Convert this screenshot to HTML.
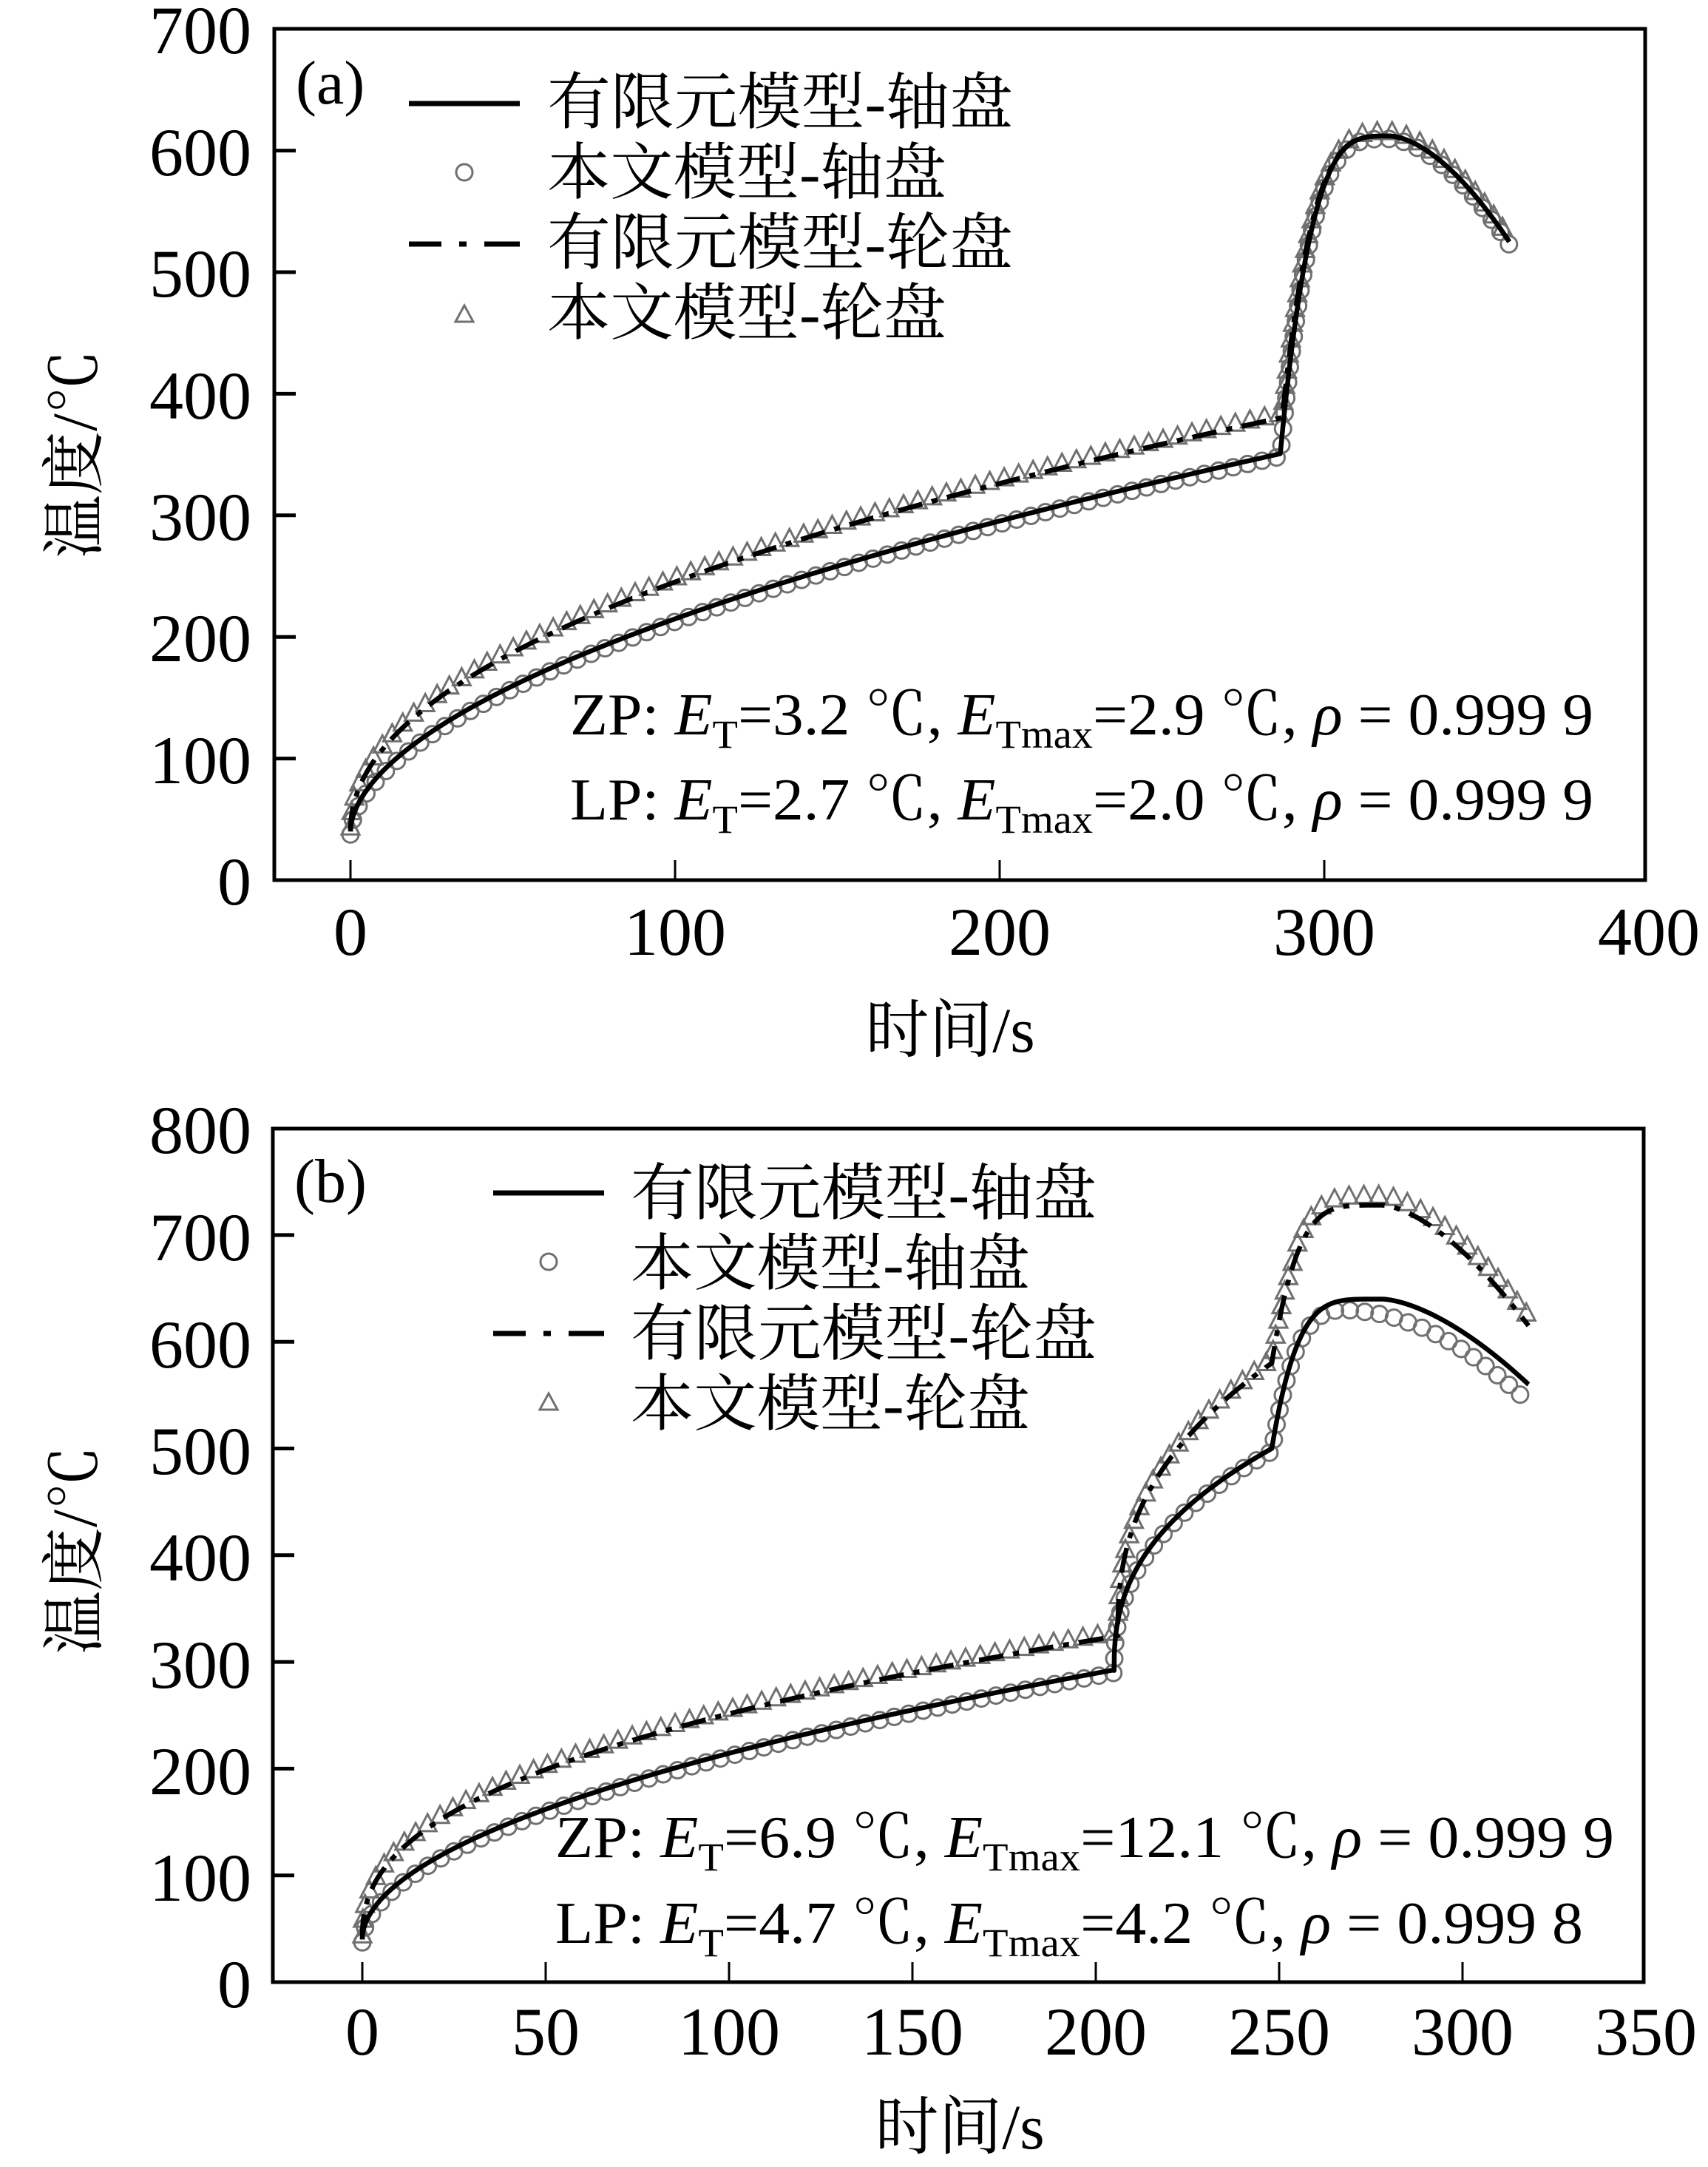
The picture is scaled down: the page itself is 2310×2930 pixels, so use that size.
<!DOCTYPE html>
<html><head><meta charset="utf-8"><style>
html,body{margin:0;padding:0;background:#fff;}
svg{display:block;}
.t{font-family:"Liberation Serif","Noto Serif CJK SC",serif;fill:#000;}
.c{font-family:"Liberation Serif","Noto Serif CJK SC",serif;fill:#000;}
</style></head><body>
<svg id="s" xmlns="http://www.w3.org/2000/svg" width="2310" height="2930" viewBox="0 0 2310 2930">
<rect width="2310" height="2930" fill="#fff"/>
<g id="ga"></g>
<g id="gb"></g>
<g class="t" font-size="92">
<text x="340" y="72" text-anchor="end">700</text>
<text x="340" y="237" text-anchor="end">600</text>
<text x="340" y="401" text-anchor="end">500</text>
<text x="340" y="566" text-anchor="end">400</text>
<text x="340" y="730" text-anchor="end">300</text>
<text x="340" y="894" text-anchor="end">200</text>
<text x="340" y="1059" text-anchor="end">100</text>
<text x="340" y="1223" text-anchor="end">0</text>
<text x="474" y="1291" text-anchor="middle">0</text>
<text x="913" y="1291" text-anchor="middle">100</text>
<text x="1352" y="1291" text-anchor="middle">200</text>
<text x="1791" y="1291" text-anchor="middle">300</text>
<text x="2230" y="1291" text-anchor="middle">400</text>
</g>
<g class="t" font-size="92">
<text x="340" y="1559" text-anchor="end">800</text>
<text x="340" y="1704" text-anchor="end">700</text>
<text x="340" y="1849" text-anchor="end">600</text>
<text x="340" y="1993" text-anchor="end">500</text>
<text x="340" y="2137" text-anchor="end">400</text>
<text x="340" y="2282" text-anchor="end">300</text>
<text x="340" y="2426" text-anchor="end">200</text>
<text x="340" y="2570" text-anchor="end">100</text>
<text x="340" y="2714" text-anchor="end">0</text>
<text x="490" y="2778" text-anchor="middle">0</text>
<text x="738" y="2778" text-anchor="middle">50</text>
<text x="986" y="2778" text-anchor="middle">100</text>
<text x="1234" y="2778" text-anchor="middle">150</text>
<text x="1482" y="2778" text-anchor="middle">200</text>
<text x="1730" y="2778" text-anchor="middle">250</text>
<text x="1978" y="2778" text-anchor="middle">300</text>
<text x="2226" y="2778" text-anchor="middle">350</text>
</g>
<g class="c" font-size="84">
<text x="400" y="140">(a)</text>
<text x="398" y="1625">(b)</text>
<text x="740" y="167" textLength="630" lengthAdjust="spacingAndGlyphs">有限元模型-轴盘</text>
<text x="740" y="262" textLength="540" lengthAdjust="spacingAndGlyphs">本文模型-轴盘</text>
<text x="740" y="357" textLength="630" lengthAdjust="spacingAndGlyphs">有限元模型-轮盘</text>
<text x="740" y="452" textLength="540" lengthAdjust="spacingAndGlyphs">本文模型-轮盘</text>
<text x="853" y="1642" textLength="630" lengthAdjust="spacingAndGlyphs">有限元模型-轴盘</text>
<text x="853" y="1737" textLength="540" lengthAdjust="spacingAndGlyphs">本文模型-轴盘</text>
<text x="853" y="1832" textLength="630" lengthAdjust="spacingAndGlyphs">有限元模型-轮盘</text>
<text x="853" y="1927" textLength="540" lengthAdjust="spacingAndGlyphs">本文模型-轮盘</text>
<text x="1285" y="1422" text-anchor="middle" font-size="86">时间/s</text>
<text x="1298" y="2905" text-anchor="middle" font-size="86">时间/s</text>
<text transform="translate(130,614) rotate(-90)" text-anchor="middle" font-size="86">温度/℃</text>
<text transform="translate(130,2096) rotate(-90)" text-anchor="middle" font-size="86">温度/℃</text>
</g>
<g class="t" font-size="80">
<text x="771" y="993" textLength="1384" lengthAdjust="spacingAndGlyphs">ZP: <tspan font-style="italic">E</tspan><tspan font-size="54" dy="18">T</tspan><tspan dy="-18">=3.2 ℃, </tspan><tspan font-style="italic">E</tspan><tspan font-size="54" dy="18">Tmax</tspan><tspan dy="-18">=2.9 ℃,  </tspan><tspan font-style="italic">ρ</tspan> = 0.999 9</text>
<text x="771" y="1108" textLength="1384" lengthAdjust="spacingAndGlyphs">LP: <tspan font-style="italic">E</tspan><tspan font-size="54" dy="18">T</tspan><tspan dy="-18">=2.7 ℃, </tspan><tspan font-style="italic">E</tspan><tspan font-size="54" dy="18">Tmax</tspan><tspan dy="-18">=2.0 ℃,  </tspan><tspan font-style="italic">ρ</tspan> = 0.999 9</text>
<text x="751" y="2511" textLength="1432" lengthAdjust="spacingAndGlyphs">ZP: <tspan font-style="italic">E</tspan><tspan font-size="54" dy="18">T</tspan><tspan dy="-18">=6.9 ℃, </tspan><tspan font-style="italic">E</tspan><tspan font-size="54" dy="18">Tmax</tspan><tspan dy="-18">=12.1 ℃,  </tspan><tspan font-style="italic">ρ</tspan> = 0.999 9</text>
<text x="751" y="2627" textLength="1390" lengthAdjust="spacingAndGlyphs">LP: <tspan font-style="italic">E</tspan><tspan font-size="54" dy="18">T</tspan><tspan dy="-18">=4.7 ℃, </tspan><tspan font-style="italic">E</tspan><tspan font-size="54" dy="18">Tmax</tspan><tspan dy="-18">=4.2 ℃,  </tspan><tspan font-style="italic">ρ</tspan> = 0.999 8</text>
</g>
</svg>
<script>
var NS="http://www.w3.org/2000/svg";
function el(g,n,a){var e=document.createElementNS(NS,n);for(var k in a)e.setAttribute(k,a[k]);g.appendChild(e);return e;}
function pw(a,p,t){return t<=0?0:a*Math.pow(t,p);}
var A={x0:474,sx:4.39,y0:1190,sy:1.644,L:371,R:2225,T:39,B:1190};
function peakA(t,s,ts){
 if(t<=320){var u=(t-ts)/(320-ts);return s+(612-s)*(1-Math.pow(1-u,3.6));}
 return 612-87*Math.pow((t-320)/37,1.7);}
function aS(t){return t<=286.5?40+pw(14.15,0.546,t):peakA(t,352,286.5);}
function aW(t){return t<=287?40+pw(22.5,0.48,t):peakA(t,380,287);}
var B={x0:490,sx:4.96,y0:2680,sy:1.443,L:369,R:2223,T:1526,B:2680};
function bS(t){
 if(t<=205)return 40+pw(16.2,0.516,t);
 if(t<=248)return 292+208*Math.pow((t-205)/43,0.4);
 if(t<=278){var u=(t-248)/30;return 500+140*(1-Math.pow(1-u,4.5));}
 return 640-80*Math.pow((t-278)/40,1.6);}
function bW(t){
 if(t<=206)return 40+pw(32,0.41,t);
 if(t<=248)return 325+255*Math.pow((t-206)/42,0.4);
 if(t<=278){var u=(t-248)/30;return 580+148*(1-Math.pow(1-u,4.5));}
 return 728-113*Math.pow((t-278)/40,1.6);}
function bSm(t){var v=bS(t);if(t>255)v-=Math.min(14,(t-255)*0.5);return v;}
function bWm(t){var v=bW(t);if(t>255)v+=5;return v;}
function pts(P,f,t1,dt){var a=[];for(var t=0;t<=t1+1e-9;t+=dt){a.push([P.x0+t*P.sx,P.y0-f(t)*P.sy]);}return a;}
function pathD(a){return "M"+a.map(function(p){return p[0].toFixed(1)+","+p[1].toFixed(1)}).join("L");}
function markers(a,sp){var r=[a[0]],acc=0;for(var i=1;i<a.length;i++){var d=Math.hypot(a[i][0]-a[i-1][0],a[i][1]-a[i-1][1]);acc+=d;if(acc>=sp){r.push(a[i]);acc=0;}}return r;}
function draw(gid,P,fS,fW,fSm,fWm,t1,yt,xt,ly){
 var g=document.getElementById(gid);
 var sp=pts(P,fS,t1,0.05),wp=pts(P,fW,t1,0.05);
 var cm=markers(pts(P,fSm,t1,0.05),20),tm=markers(pts(P,fWm,t1,0.05),20);
 cm.forEach(function(p){el(g,"circle",{cx:p[0],cy:p[1]+4,r:11,fill:"none",stroke:"#707070","stroke-width":3});});
 tm.forEach(function(p){var x=p[0],y=p[1]-6;el(g,"polygon",{points:(x-12)+","+(y+10)+" "+(x+12)+","+(y+10)+" "+x+","+(y-13),fill:"none",stroke:"#707070","stroke-width":3});});
 el(g,"path",{d:pathD(sp),fill:"none",stroke:"#000","stroke-width":6.5,"stroke-linejoin":"round"});
 el(g,"path",{d:pathD(wp),fill:"none",stroke:"#000","stroke-width":6.5,"stroke-dasharray":"34 14 8 14"});
 el(g,"rect",{x:P.L,y:P.T,width:P.R-P.L,height:P.B-P.T,fill:"none",stroke:"#000","stroke-width":5});
 yt.forEach(function(v){var y=P.y0-v*P.sy;el(g,"line",{x1:P.L,x2:P.L+29,y1:y,y2:y,stroke:"#000","stroke-width":5});});
 xt.forEach(function(v){var x=P.x0+v*P.sx;el(g,"line",{x1:x,x2:x,y1:P.B,y2:P.B-27,stroke:"#000","stroke-width":3});});
 var lx=ly.x;
 el(g,"line",{x1:lx,x2:lx+150,y1:ly.y[0],y2:ly.y[0],stroke:"#000","stroke-width":7});
 el(g,"circle",{cx:lx+75,cy:ly.y[1],r:11,fill:"none",stroke:"#707070","stroke-width":3});
 el(g,"line",{x1:lx,x2:lx+150,y1:ly.y[2],y2:ly.y[2],stroke:"#000","stroke-width":7,"stroke-dasharray":"44 24 10 24 48"});
 var y=ly.y[3];el(g,"polygon",{points:(lx+63)+","+(y+10)+" "+(lx+87)+","+(y+10)+" "+(lx+75)+","+(y-12),fill:"none",stroke:"#707070","stroke-width":3});
}
draw("ga",A,aS,aW,aS,aW,357,[100,200,300,400,500,600],[0,100,200,300],{x:553,y:[140,233,330,425]});
draw("gb",B,bS,bW,bSm,bWm,318,[100,200,300,400,500,600,700],[0,50,100,150,200,250,300],{x:667,y:[1613,1706,1803,1896]});
</script>
</body></html>
